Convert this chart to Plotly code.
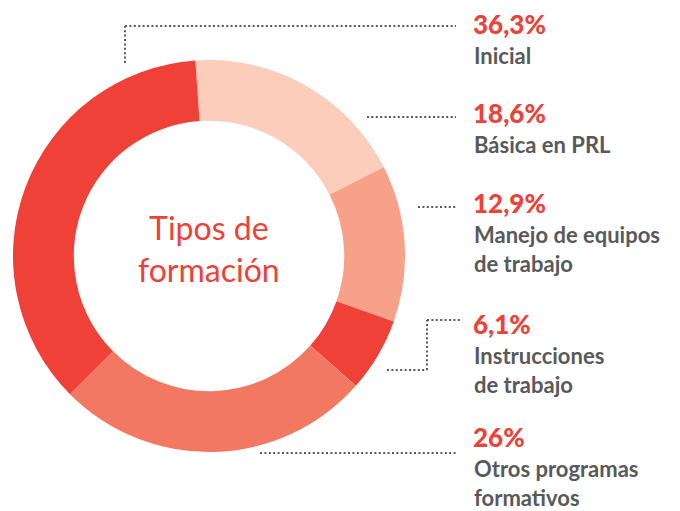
import plotly.graph_objects as go

# Data
categories = ["Básica en PRL", "Manejo de equipos de trabajo", "Instrucciones de trabajo",
              "Otros programas formativos", "Inicial"]
values = [18.6, 12.9, 6.1, 26.0, 36.3]
colors = ["#FBCDBA", "#F7A189", "#EF4137", "#F27862", "#EF4137"]
pct_labels = ["18,6%", "12,9%", "6,1%", "26%", "36,3%"]
name_labels = [["Básica en PRL"], ["Manejo de equipos", "de trabajo"], ["Instrucciones", "de trabajo"],
               ["Otros programas", "formativos"], ["Inicial"]]
center_title = "Tipos de<br>formación"

W, H = 680, 511
RED = "#EF4137"
GRAY = "#58595B"

fig = go.Figure()

# donut geometry (pixels)
cx, cy, r = 209, 256, 196
fig.add_trace(go.Pie(
    values=values, labels=categories, sort=False, direction="clockwise",
    rotation=-4, hole=0.69, textinfo="none", hoverinfo="label+value",
    marker=dict(colors=colors, line=dict(width=0)),
    domain=dict(x=[(cx - r) / W, (cx + r) / W], y=[(H - cy - r) / H, (H - cy + r) / H]),
    showlegend=False,
))

# pixel overlay axes
fig.update_layout(
    width=W, height=H, margin=dict(l=0, r=0, t=0, b=0),
    paper_bgcolor="white", plot_bgcolor="rgba(0,0,0,0)",
    xaxis=dict(range=[0, W], visible=False, fixedrange=True),
    yaxis=dict(range=[H, 0], visible=False, fixedrange=True),
)

# leader lines (pixel paths) per label: Básica, Manejo, Instrucciones, Otros, Inicial
leader_paths = [
    [(367, 117), (456, 117)],
    [(418, 207), (456, 207)],
    [(387, 370), (427, 370), (427, 320), (462, 320)],
    [(260, 453), (456, 453)],
    [(125, 63), (125, 26), (456, 26)],
]
label_y = [113, 203, 324, 437, 24]

for path in leader_paths:
    for (x0, y0), (x1, y1) in zip(path[:-1], path[1:]):
        fig.add_shape(type="line", xref="x", yref="y", x0=x0, y0=y0, x1=x1, y1=y1,
                      line=dict(color=GRAY, width=2, dash="2px,2.4px"))

for pct, lines, y in zip(pct_labels, name_labels, label_y):
    fig.add_annotation(x=471, y=y, xref="x", yref="y", text=pct, showarrow=False,
                       xanchor="left", yanchor="middle",
                       font=dict(family="Lato", size=26, color=RED, weight=900))
    for i, line in enumerate(lines):
        fig.add_annotation(x=472, y=y + 31 + 29 * i, xref="x", yref="y", text=line,
                           showarrow=False, xanchor="left", yanchor="middle",
                           font=dict(family="Lato", size=22, color=GRAY, weight="bold"))

fig.add_annotation(x=cx, y=248, xref="x", yref="y", text=center_title, showarrow=False,
                   xanchor="center", yanchor="middle", align="center",
                   font=dict(family="Lato", size=32, color=RED))

fig.write_html("out.html", config={"displayModeBar": False},
               post_script="document.body.style.margin='0';")
